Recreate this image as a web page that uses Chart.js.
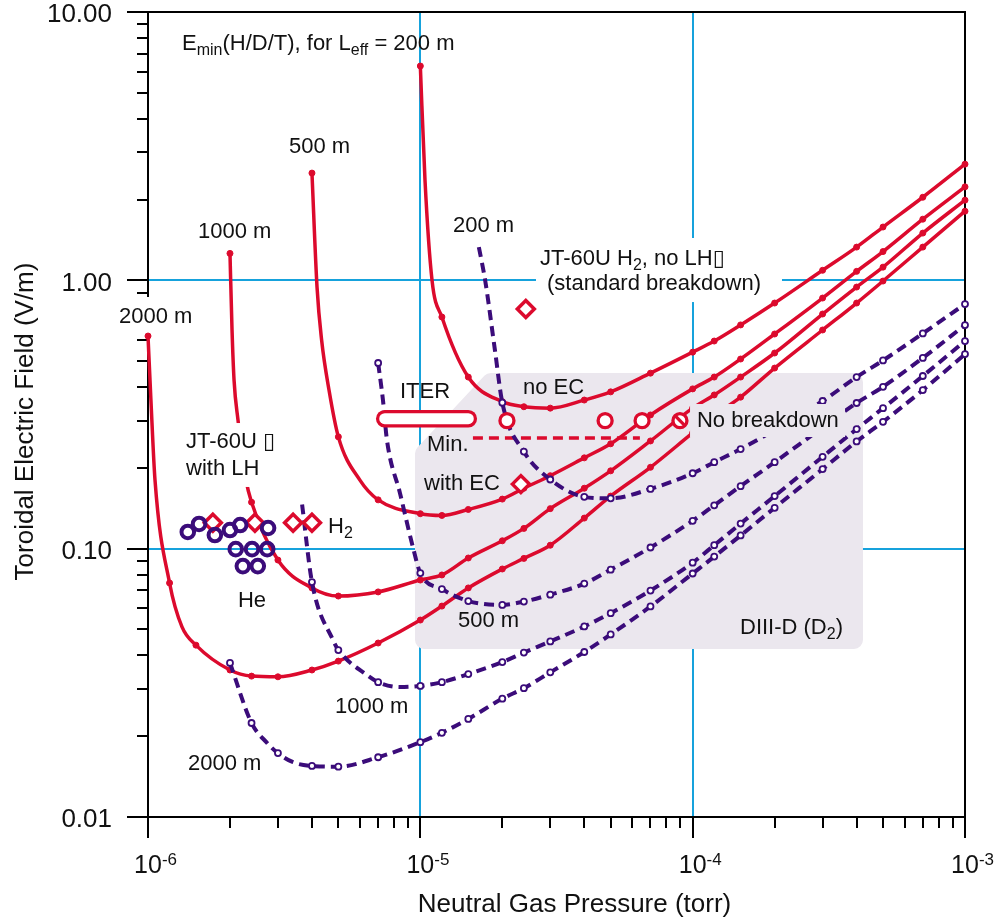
<!DOCTYPE html>
<html>
<head>
<meta charset="utf-8">
<script src="https://cdn.jsdelivr.net/npm/chart.js@4.4.1/dist/chart.umd.min.js"></script>
<style>
  html, body { margin: 0; padding: 0; background: #fff; }
</style>
</head>
<body>
<canvas id="chart" width="1004" height="920"></canvas>
<script>
// Emin for H/D/T, solid red curves: [pressure (torr), field (V/m)]
const hdt200 = [[1e-5, 6.29], [1.04e-5, 2.37], [1.104e-5, 1.0], [1.2e-5, 0.73], [1.5e-5, 0.436], [2e-5, 0.353], [2.4e-5, 0.338], [3e-5, 0.334], [4e-5, 0.358], [5e-5, 0.384], [7e-5, 0.451], [1e-4, 0.54], [1.2e-4, 0.594], [1.5e-4, 0.682], [2e-4, 0.823], [3e-4, 1.09], [4e-4, 1.33], [5e-4, 1.58], [7e-4, 2.04], [1e-3, 2.71]];
const hdt500 = [[4e-6, 2.51], [4.175e-6, 0.944], [4.34e-6, 0.599], [4.62e-6, 0.39], [5e-6, 0.261], [6e-6, 0.18], [7e-6, 0.152], [1e-5, 0.135], [1.2e-5, 0.133], [1.5e-5, 0.14], [2e-5, 0.153], [2.4e-5, 0.168], [3e-5, 0.187], [4e-5, 0.218], [5e-5, 0.246], [7e-5, 0.315], [1e-4, 0.394], [1.2e-4, 0.436], [1.5e-4, 0.509], [2e-4, 0.631], [3e-4, 0.859], [4e-4, 1.08], [5e-4, 1.28], [7e-4, 1.69], [1e-3, 2.23]];
const hdt1000 = [[2e-6, 1.26], [2.035e-6, 0.653], [2.07e-6, 0.425], [2.14e-6, 0.302], [2.29e-6, 0.18], [2.4e-6, 0.149], [3e-6, 0.0907], [4e-6, 0.0714], [5e-6, 0.0666], [7e-6, 0.069], [1e-5, 0.0764], [1.2e-5, 0.0798], [1.5e-5, 0.0923], [2e-5, 0.107], [2.4e-5, 0.119], [3e-5, 0.141], [4e-5, 0.168], [5e-5, 0.195], [7e-5, 0.252], [1e-4, 0.334], [1.2e-4, 0.374], [1.5e-4, 0.436], [2e-4, 0.536], [3e-4, 0.749], [4e-4, 0.944], [5e-4, 1.12], [7e-4, 1.5], [1e-3, 1.99]];
const hdt2000 = [[1e-6, 0.62], [1.025e-6, 0.358], [1.061e-6, 0.18], [1.2e-6, 0.0745], [1.333e-6, 0.0511], [1.5e-6, 0.0437], [2e-6, 0.0353], [2.4e-6, 0.0335], [3e-6, 0.0333], [4e-6, 0.0353], [5e-6, 0.0381], [7e-6, 0.0445], [1e-5, 0.0542], [1.2e-5, 0.0611], [1.5e-5, 0.0714], [2e-5, 0.084], [2.4e-5, 0.092], [3e-5, 0.103], [4e-5, 0.13], [5e-5, 0.157], [7e-5, 0.201], [1e-4, 0.27], [1.2e-4, 0.313], [1.5e-4, 0.367], [2e-4, 0.471], [3e-4, 0.653], [4e-4, 0.823], [5e-4, 0.994], [7e-4, 1.33], [1e-3, 1.81]];

// DIII-D (D2), dashed purple curves
const d200 = [[1.64e-5, 1.33], [1.73e-5, 1.0], [1.88e-5, 0.547], [2e-5, 0.35], [2.4e-5, 0.23], [3e-5, 0.181], [4e-5, 0.156], [5e-5, 0.154], [7e-5, 0.167], [1e-4, 0.191], [1.2e-4, 0.21], [1.5e-4, 0.235], [2e-4, 0.277], [3e-4, 0.355], [4e-4, 0.436], [5e-4, 0.503], [7e-4, 0.634], [1e-3, 0.816]];
const d500 = [[7e-6, 0.492], [7.29e-6, 0.358], [7.54e-6, 0.254], [8.42e-6, 0.161], [9.4e-6, 0.101], [1e-5, 0.0811], [1.2e-5, 0.0707], [1.5e-5, 0.0638], [2e-5, 0.0617], [2.4e-5, 0.0635], [3e-5, 0.0674], [4e-5, 0.0741], [5e-5, 0.0835], [7e-5, 0.101], [1e-4, 0.127], [1.2e-4, 0.145], [1.5e-4, 0.171], [2e-4, 0.21], [3e-4, 0.283], [4e-4, 0.349], [5e-4, 0.401], [7e-4, 0.514], [1e-3, 0.681]];
const d1000 = [[3.68e-6, 0.146], [4e-6, 0.0751], [4.78e-6, 0.0456], [5e-6, 0.0419], [6.37e-6, 0.0338], [7e-6, 0.0318], [8.42e-6, 0.0305], [1e-5, 0.0308], [1.2e-5, 0.0318], [1.5e-5, 0.0341], [2e-5, 0.0378], [2.4e-5, 0.041], [3e-5, 0.0451], [4e-5, 0.0513], [5e-5, 0.0575], [7e-5, 0.0698], [1e-4, 0.0887], [1.2e-4, 0.103], [1.5e-4, 0.124], [2e-4, 0.157], [3e-4, 0.22], [4e-4, 0.279], [5e-4, 0.334], [7e-4, 0.44], [1e-3, 0.594]];
const d2000 = [[2e-6, 0.0375], [2.4e-6, 0.0224], [2.735e-6, 0.0189], [3e-6, 0.0173], [3.41e-6, 0.016], [4e-6, 0.0155], [5e-6, 0.0154], [7e-6, 0.0167], [1e-5, 0.019], [1.2e-5, 0.0206], [1.5e-5, 0.0232], [2e-5, 0.0276], [2.4e-5, 0.0302], [3e-5, 0.0346], [4e-5, 0.0412], [5e-5, 0.0479], [7e-5, 0.0609], [1e-4, 0.0808], [1.2e-4, 0.0934], [1.5e-4, 0.112], [2e-4, 0.142], [3e-4, 0.198], [4e-4, 0.251], [5e-4, 0.297], [7e-4, 0.39], [1e-3, 0.531]];

// measured shots
const jt60H2 = [[1.73e-6, 0.125], [2.47e-6, 0.125], [3.41e-6, 0.125], [4.0e-6, 0.125]];
const jt60He = [[1.4e-6, 0.1154], [1.54e-6, 0.1236], [1.76e-6, 0.1124], [2.0e-6, 0.1173], [2.18e-6, 0.1225], [2.76e-6, 0.1194], [2.1e-6, 0.0996], [2.41e-6, 0.0996], [2.74e-6, 0.0996], [2.23e-6, 0.0861], [2.53e-6, 0.0861]];
const jt60Std = [[2.44e-5, 0.782]];
const withEC = [[2.34e-5, 0.174]];
const iterShots = [[2.08e-5, 0.30], [4.77e-5, 0.30], [6.52e-5, 0.30]];
const noBreakdown = [[8.98e-5, 0.30]];
const minField = [[1.56e-5, 0.2585], [6.4e-5, 0.2585]];
const iterRange = [[7.4e-6, 0.305], [1.5e-5, 0.305]];

// shaded DIII-D operating region (corners in pressure / field)
const diiidRegion = [[1.757e-5, 0.4516], [4.22e-4, 0.4516], [4.22e-4, 0.0423], [9.56e-6, 0.0423], [9.56e-6, 0.2332]];

const RED = '#dc0a2d', PURPLE = '#3b0c7a', CYAN = '#16a2dc', BOX = '#ebe7ee', INK = '#111';
const FONT = '"Liberation Sans", Arial, Helvetica, "DejaVu Sans", sans-serif';

// text annotations: runs of [text, 'sub'?], anchored at left/baseline
const notes = [
  { runs: [['E'], ['min', 'sub'], ['(H/D/T), for L'], ['eff', 'sub'], [' = 200 m']], at: [1.333e-6, 7.22] },
  { runs: [['500 m']], at: [3.294e-6, 2.98] },
  { runs: [['1000 m']], at: [1.526e-6, 1.438] },
  { runs: [['2000 m']], at: [7.83e-7, 0.6934] },
  { runs: [['200 m']], at: [1.318e-5, 1.514] },
  { runs: [['JT-60U H'], ['2', 'sub'], [', no LH\u25AF']], at: [2.75e-5, 1.141] },
  { runs: [['(standard breakdown)']], at: [2.918e-5, 0.9204] },
  { runs: [['ITER']], at: [8.42e-6, 0.3643] },
  { runs: [['Min.']], at: [1.058e-5, 0.2312] },
  { runs: [['with EC']], at: [1.032e-5, 0.1654] },
  { runs: [['no EC']], at: [2.382e-5, 0.3771] },
  { runs: [['No breakdown']], at: [1.037e-4, 0.2841] },
  { runs: [['JT-60U \u25AF']], at: [1.379e-6, 0.2372] },
  { runs: [['with LH']], at: [1.379e-6, 0.1882] },
  { runs: [['H'], ['2', 'sub']], at: [4.581e-6, 0.1144] },
  { runs: [['He']], at: [2.14e-6, 0.0606] },
  { runs: [['500 m']], at: [1.375e-5, 0.05105] },
  { runs: [['1000 m']], at: [4.861e-6, 0.02441] },
  { runs: [['2000 m']], at: [1.402e-6, 0.01497] },
  { runs: [['DIII-D (D'], ['2', 'sub'], [')']], at: [1.492e-4, 0.04808] }
];

// backgrounds behind labels; "under" ones only hide grid and axis, the rest also hide curves
const masks = [
  { from: [2.659e-5, 1.438], to: [2.128e-4, 0.83], color: '#fff', under: true },
  { from: [7.63e-7, 0.8668], to: [1.513e-6, 0.631], color: '#fff', under: true },
  { from: [1.345e-6, 0.2939], to: [3.185e-6, 0.1698], color: '#fff' },
  { from: [9.78e-5, 0.346], to: [3.626e-4, 0.2607], color: BOX }
];

const GRID_MANT = [1, 1.2, 1.5, 2, 2.4, 3, 4, 5, 7];
const mantissa = v => v / Math.pow(10, Math.floor(Math.log10(v) + 1e-9));
const isDecade = v => Math.abs(mantissa(v) - 1) < 1e-6;
const onGrid = v => GRID_MANT.some(g => Math.abs(mantissa(v) - g) < 0.004);
const pts = a => a.map(([x, y]) => ({ x, y }));

function curve(data, color, dashed) {
  return {
    data: pts(data),
    showLine: true,
    borderColor: color,
    borderWidth: dashed ? 4 : 3.5,
    borderDash: dashed ? [10, 6] : [],
    cubicInterpolationMode: 'monotone',
    pointRadius: c => (c.raw && onGrid(c.raw.x)) ? 3 : 0,
    pointBackgroundColor: dashed ? '#fff' : color,
    pointBorderColor: color,
    pointBorderWidth: dashed ? 1.8 : 1,
    clip: false,
    order: dashed ? 5 : 6
  };
}

function roundedPoly(ctx, p, r) {
  const n = p.length;
  ctx.moveTo((p[n - 1][0] + p[0][0]) / 2, (p[n - 1][1] + p[0][1]) / 2);
  for (let i = 0; i < n; i++) {
    const a = p[i], b = p[(i + 1) % n];
    ctx.arcTo(a[0], a[1], b[0], b[1], r);
  }
  ctx.closePath();
}

function drawRuns(ctx, runs, x, y) {
  let cx = x;
  for (const [txt, kind] of runs) {
    const sub = kind === 'sub';
    ctx.font = (sub ? 16 : 22) + 'px ' + FONT;
    ctx.fillText(txt, cx, y + (sub ? 5 : 0));
    cx += ctx.measureText(txt).width;
  }
}

function fillMasks(ctx, x, y, under) {
  masks.filter(m => !!m.under === under).forEach(m => {
    const x1 = x.getPixelForValue(m.from[0]), y1 = y.getPixelForValue(m.from[1]);
    const x2 = x.getPixelForValue(m.to[0]), y2 = y.getPixelForValue(m.to[1]);
    ctx.fillStyle = m.color;
    ctx.fillRect(x1, y1, x2 - x1, y2 - y1);
  });
}

const overlay = {
  id: 'overlay',
  beforeDatasetsDraw(chart) {
    const { ctx, chartArea: a, scales: { x, y } } = chart;
    ctx.save();
    ctx.fillStyle = BOX;
    ctx.beginPath();
    roundedPoly(ctx, diiidRegion.map(([p, e]) => [x.getPixelForValue(p), y.getPixelForValue(e)]), 9);
    ctx.fill();

    // minor ticks, shorter than the decade ticks
    ctx.strokeStyle = '#000';
    ctx.lineWidth = 2;
    ctx.beginPath();
    x.ticks.forEach(t => {
      if (isDecade(t.value)) return;
      const px = Math.round(x.getPixelForValue(t.value));
      ctx.moveTo(px, a.bottom);
      ctx.lineTo(px, a.bottom + 11);
    });
    y.ticks.forEach(t => {
      if (isDecade(t.value)) return;
      const py = Math.round(y.getPixelForValue(t.value));
      ctx.moveTo(a.left, py);
      ctx.lineTo(a.left - 11, py);
    });
    // top and right frame
    ctx.moveTo(a.left, a.top);
    ctx.lineTo(a.right, a.top);
    ctx.lineTo(a.right, a.bottom);
    ctx.stroke();

    fillMasks(ctx, x, y, true);
    ctx.restore();
  },
  afterDatasetsDraw(chart) {
    const { ctx, chartArea: a, scales: { x, y } } = chart;
    ctx.save();
    fillMasks(ctx, x, y, false);

    ctx.fillStyle = INK;
    ctx.textBaseline = 'alphabetic';
    ctx.textAlign = 'left';
    notes.forEach(n => drawRuns(ctx, n.runs, x.getPixelForValue(n.at[0]), y.getPixelForValue(n.at[1])));

    // decade labels on the pressure axis: 10 with a raised exponent
    x.ticks.filter(t => isDecade(t.value)).forEach(t => {
      const px = x.getPixelForValue(t.value);
      ctx.font = '25px ' + FONT;
      ctx.textAlign = 'center';
      ctx.fillText('10', px, a.bottom + 56);
      const w = ctx.measureText('10').width;
      ctx.font = '17px ' + FONT;
      ctx.textAlign = 'left';
      ctx.fillText('-' + Math.round(-Math.log10(t.value)), px + w / 2, a.bottom + 48);
    });

    ctx.font = '26px ' + FONT;
    ctx.textAlign = 'center';
    ctx.fillText('Neutral Gas Pressure (torr)', (a.left + a.right) / 2 + 18, a.bottom + 95);
    ctx.translate(33, (a.top + a.bottom) / 2 + 7);
    ctx.rotate(-Math.PI / 2);
    ctx.fillText('Toroidal Electric Field (V/m)', 0, 0);
    ctx.restore();
  }
};

const keepWhole = s => { s.ticks = s.ticks.filter(t => Math.abs(mantissa(t.value) - Math.round(mantissa(t.value))) < 1e-6); };

const datasets = [
  curve(hdt200, RED, false),
  curve(hdt500, RED, false),
  curve(hdt1000, RED, false),
  curve(hdt2000, RED, false),
  curve(d200, PURPLE, true),
  curve(d500, PURPLE, true),
  curve(d1000, PURPLE, true),
  curve(d2000, PURPLE, true),
  { data: pts(minField), showLine: true, borderColor: RED, borderWidth: 3.5, borderDash: [10, 6], pointRadius: 0, clip: false, order: 5 },
  { data: pts(iterRange), showLine: true, borderColor: RED, borderWidth: 17.5, borderCapStyle: 'round', pointRadius: 0, clip: false, order: 4.1 },
  { data: pts(iterRange), showLine: true, borderColor: '#fff', borderWidth: 11, borderCapStyle: 'round', pointRadius: 0, clip: false, order: 4 },
  { data: pts(jt60H2.concat(jt60Std, withEC)), pointStyle: 'rectRot', pointRadius: 8.5, pointBorderWidth: 3.5, pointBorderColor: RED, pointBackgroundColor: '#fff', clip: false, order: 3 },
  { data: pts(iterShots.concat(noBreakdown)), pointStyle: 'circle', pointRadius: 7, pointBorderWidth: 3.3, pointBorderColor: RED, pointBackgroundColor: '#fff', clip: false, order: 2 },
  { data: pts(noBreakdown), pointStyle: 'line', pointRotation: 45, pointRadius: 7, pointBorderWidth: 3.3, pointBorderColor: RED, clip: false, order: 1.9 },
  { data: pts(jt60He), pointStyle: 'circle', pointRadius: 6.3, pointBorderWidth: 4, pointBorderColor: PURPLE, pointBackgroundColor: 'rgba(0,0,0,0)', clip: false, order: 1 }
];

new Chart(document.getElementById('chart'), {
  type: 'scatter',
  data: { datasets },
  options: {
    responsive: false,
    devicePixelRatio: 1,
    animation: false,
    events: [],
    layout: { padding: { left: 0, right: 39, top: 12, bottom: 0 } },
    plugins: { legend: { display: false }, tooltip: { enabled: false } },
    scales: {
      x: {
        type: 'logarithmic',
        position: 'bottom',
        min: 1e-6,
        max: 1e-3,
        afterBuildTicks: keepWhole,
        afterFit: s => { s.height = 103; s.paddingLeft = 0; s.paddingRight = 0; },
        grid: {
          color: c => (c.tick && isDecade(c.tick.value)) ? CYAN : 'rgba(0,0,0,0)',
          lineWidth: 2,
          tickLength: 21,
          tickWidth: 2,
          tickColor: c => (c.tick && isDecade(c.tick.value)) ? '#000' : 'rgba(0,0,0,0)'
        },
        border: { display: true, color: '#000', width: 2 },
        ticks: { display: false, autoSkip: false }
      },
      y: {
        type: 'logarithmic',
        position: 'left',
        min: 0.01,
        max: 10,
        afterBuildTicks: keepWhole,
        afterFit: s => { s.width = 148; s.paddingTop = 0; s.paddingBottom = 0; },
        grid: {
          color: c => (c.tick && isDecade(c.tick.value)) ? CYAN : 'rgba(0,0,0,0)',
          lineWidth: 2,
          tickLength: 21,
          tickWidth: 2,
          tickColor: c => (c.tick && isDecade(c.tick.value)) ? '#000' : 'rgba(0,0,0,0)'
        },
        border: { display: true, color: '#000', width: 2 },
        ticks: {
          autoSkip: false,
          padding: 15,
          labelOffset: 3,
          color: INK,
          font: { family: FONT, size: 26 },
          callback: v => isDecade(v) ? v.toFixed(2) : ''
        }
      }
    }
  },
  plugins: [overlay]
});
</script>
</body>
</html>
